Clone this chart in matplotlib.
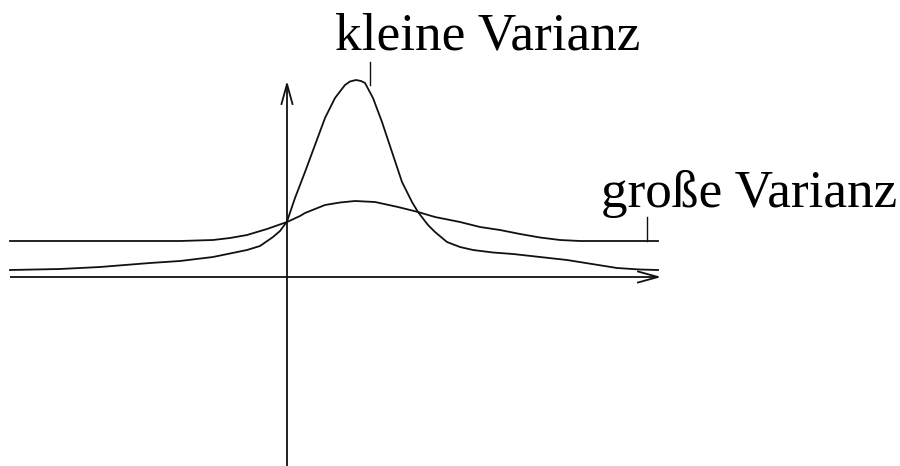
import matplotlib
matplotlib.use("Agg")
import matplotlib.pyplot as plt

# Wide curve ("große Varianz")
wide_x = [-5.54, -3.74, -2.14, -1.48, -1.14, -0.80, -0.40, 0.0, 0.26, 0.36, 0.76,
          1.06, 1.36, 1.76, 2.22, 2.62, 2.96, 3.46, 3.86, 4.26, 4.66, 5.06, 5.46,
          5.86, 6.66, 7.42]
wide_y = [0.72, 0.72, 0.72, 0.74, 0.78, 0.84, 0.96, 1.10, 1.22, 1.28, 1.44,
          1.49, 1.52, 1.50, 1.40, 1.30, 1.20, 1.10, 1.00, 0.94, 0.86, 0.79, 0.74,
          0.72, 0.72, 0.72]

# Narrow curve ("kleine Varianz")
narrow_x = [-5.54, -4.54, -3.74, -2.74, -2.14, -1.48, -0.80, -0.54, -0.28, -0.14, 0.0,
            0.16, 0.36, 0.56, 0.76, 0.96, 1.16, 1.26, 1.38, 1.48, 1.56, 1.72, 1.90,
            2.10, 2.30, 2.50, 2.62, 2.82, 2.96, 3.20, 3.46, 3.72, 4.12, 4.52, 5.06,
            5.60, 6.10, 6.60, 7.06, 7.42]
narrow_y = [0.14, 0.16, 0.20, 0.28, 0.32, 0.40, 0.54, 0.62, 0.80, 0.92, 1.11,
            1.58, 2.10, 2.64, 3.18, 3.58, 3.84, 3.91, 3.94, 3.92, 3.88, 3.58, 3.10,
            2.50, 1.90, 1.50, 1.30, 1.04, 0.90, 0.70, 0.60, 0.54, 0.49, 0.46, 0.40,
            0.34, 0.26, 0.18, 0.15, 0.14]

label_small = "kleine Varianz"
label_large = "große Varianz"

col = "#111111"
lw = 1.3

fig = plt.figure(figsize=(9, 4.66), dpi=100)
ax = fig.add_axes([0, 0, 1, 1])
ax.set_xlim(-5.74, 12.26)
ax.set_ylim(-3.78, 5.54)
ax.axis("off")

# axes
x_left, x_right = -5.54, 7.42
y_bottom, y_top = -3.80, 3.86
ax.plot([x_left, x_right], [0, 0], color=col, lw=lw, solid_capstyle="butt")
ax.plot([0, 0], [y_bottom, y_top], color=col, lw=lw, solid_capstyle="butt")
# arrow heads
hl, hw = 0.40, 0.11
ax.plot([x_right - hl, x_right, x_right - hl], [hw, 0, -hw], color=col, lw=lw)
ax.plot([-hw, 0, hw], [y_top - hl, y_top, y_top - hl], color=col, lw=lw)

# curves
ax.plot(wide_x, wide_y, color=col, lw=lw, solid_joinstyle="round")
ax.plot(narrow_x, narrow_y, color=col, lw=lw, solid_joinstyle="round")

# labels with pointer ticks
font = dict(family=["Liberation Serif", "DejaVu Serif"], fontsize=38.3, color="black")
ax.text(0.96, 4.54, label_small, ha="left", va="baseline", **font)
ax.plot([1.66, 1.66], [3.84, 4.30], color=col, lw=1.0)
ax.text(6.28, 1.40, label_large, ha="left", va="baseline", **font)
ax.plot([7.20, 7.20], [0.72, 1.20], color=col, lw=1.0)

fig.savefig("out.png", dpi=100)
